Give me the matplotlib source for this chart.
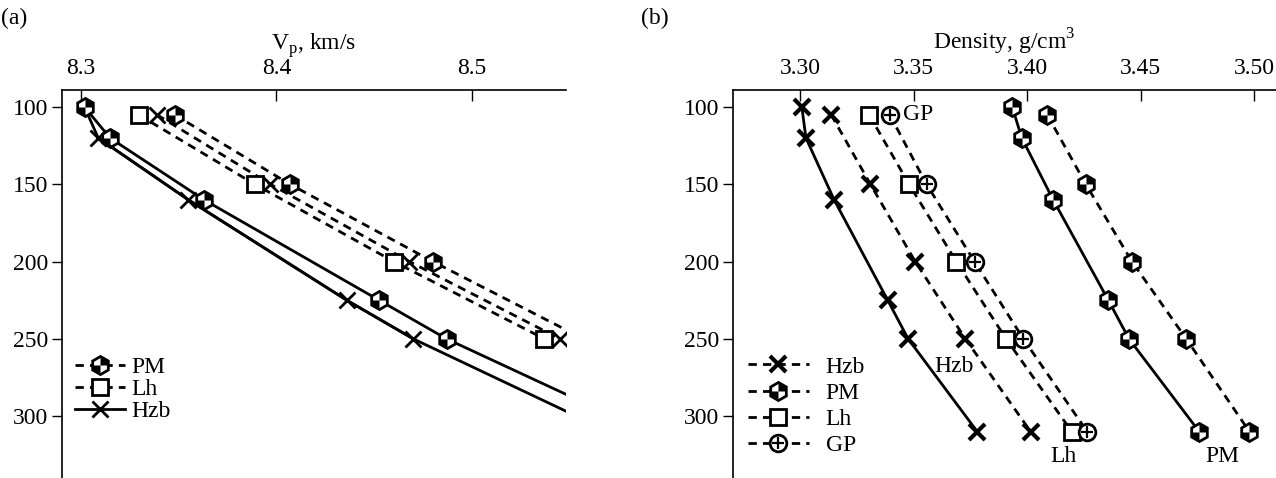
import numpy as np
import matplotlib.pyplot as plt
from matplotlib.path import Path
from matplotlib.legend_handler import HandlerTuple

plt.rcParams['font.family'] = ['Liberation Serif', 'DejaVu Serif']
plt.rcParams['mathtext.fontset'] = 'custom'
plt.rcParams['mathtext.rm'] = 'Liberation Serif'
plt.rcParams['font.size'] = 17

# (a) Vp, km/s против глубины
depth_a_solid = [100, 120, 160, 225, 250, 310]
vp_pm_solid = [8.302, 8.315, 8.363, 8.4525, 8.487, 8.589]
vp_hzb_solid = [8.302, 8.309, 8.355, 8.436, 8.470, 8.570]
hzb_solid_marked = [1, 2, 3, 4]

depth_a_dash = [105, 150, 200, 250]
vp_pm_dash = [8.348, 8.407, 8.480, 8.557]
vp_lh_dash = [8.3296, 8.389, 8.460, 8.537]
vp_hzb_dash = [8.339, 8.397, 8.468, 8.545]

# (b) плотность
depth_b_solid = [100, 120, 160, 225, 250, 310]
rho_hzb_solid = [3.3008, 3.3026, 3.315, 3.3386, 3.3476, 3.378]
rho_pm_solid = [3.3934, 3.3976, 3.4114, 3.4357, 3.4448, 3.4757]

depth_b_dash = [105, 150, 200, 250, 310]
rho_hzb_dash = [3.3137, 3.331, 3.3507, 3.3728, 3.4015]
rho_lh_dash = [3.3304, 3.348, 3.3688, 3.3907, 3.4196]
rho_gp_dash = [3.3395, 3.3557, 3.3768, 3.3983, 3.4264]
rho_pm_dash = [3.4088, 3.4258, 3.4461, 3.47, 3.4978]

yticks = [100, 150, 200, 250, 300]
xticks_a = [8.3, 8.4, 8.5]
xticks_b = [3.30, 3.35, 3.40, 3.45, 3.50]

# чёрные четверти шестиугольника
c30 = np.cos(np.pi / 6)
quad = Path([(0, 0), (0, 1), (c30, 0.5), (c30, 0), (0, 0),
             (0, 0), (0, -1), (-c30, -0.5), (-c30, 0), (0, 0)],
            [Path.MOVETO, Path.LINETO, Path.LINETO, Path.LINETO, Path.CLOSEPOLY] * 2)

LW = 2.0
DASH = (3, 2.2)
HT = {tuple: HandlerTuple(ndivide=1, pad=0)}


def pm(ax, x, y, ls, ms=13):
    kw = dict(color='k', lw=LW, marker='h', ms=ms, mfc='white', mec='k', mew=2)
    if ls == '--':
        l1, = ax.plot(x, y, dashes=DASH, **kw)
    else:
        l1, = ax.plot(x, y, **kw)
    l2, = ax.plot(x, y, ls='none', marker=quad, ms=ms - 1.5, mfc='k', mec='none')
    return (l1, l2)


def style(ax, xlim, xticks, fmt):
    ax.set_xlim(*xlim)
    ax.set_ylim(340, 89)
    ax.xaxis.tick_top()
    ax.xaxis.set_label_position('top')
    ax.spines['right'].set_visible(False)
    ax.spines['bottom'].set_visible(False)
    ax.set_xticks(xticks)
    ax.set_xticklabels([fmt % v for v in xticks])
    ax.set_yticks(yticks)
    ax.tick_params(axis='x', direction='in', length=8, width=1, pad=8)
    ax.tick_params(axis='y', direction='out', length=7, width=1, pad=3)
    for s in ax.spines.values():
        s.set_linewidth(1.2)


fig = plt.figure(figsize=(12.76, 4.78), dpi=100)
ax1 = fig.add_axes([62 / 1276, 0, 504 / 1276, 388 / 478])
ax2 = fig.add_axes([733 / 1276, 0, 543 / 1276, 388 / 478])

# --- (a)
pm(ax1, vp_pm_solid, depth_a_solid, '-')
x_h = [vp_hzb_solid[i] for i in hzb_solid_marked]
d_h = [depth_a_solid[i] for i in hzb_solid_marked]
ax1.plot(vp_hzb_solid, depth_a_solid, color='k', lw=LW, zorder=1)
h_hzb_a, = ax1.plot(x_h, d_h, ls='-', color='k', lw=LW, marker='x', ms=12, mew=2)
ax1.plot(vp_hzb_dash, depth_a_dash, color='k', lw=LW, dashes=DASH,
         marker='x', ms=12, mew=2)
h_lh_a, = ax1.plot(vp_lh_dash, depth_a_dash, color='k', lw=LW, dashes=DASH,
                   marker='s', ms=11, mfc='white', mec='k', mew=2)
h_pm_a = pm(ax1, vp_pm_dash, depth_a_dash, '--')

style(ax1, (8.2905, 8.548), xticks_a, '%.1f')
ax1.set_xlabel(r'V$_{\mathrm{p}}$, km/s', labelpad=6)
ax1.legend([h_pm_a, h_lh_a, h_hzb_a], ['PM', 'Lh', 'Hzb'], handler_map=HT,
           loc='upper left', bbox_to_anchor=(0.026, 0.312), frameon=False,
           handlelength=2.1, handletextpad=0.3, labelspacing=0.02,
           borderpad=0, borderaxespad=0)

# --- (b)
h_hzb_b, = ax2.plot(rho_hzb_dash, depth_b_dash, color='k', lw=LW, dashes=DASH,
                    marker='x', ms=12, mew=3)
ax2.plot(rho_hzb_solid, depth_b_solid, color='k', lw=LW, marker='x', ms=12, mew=3)
h_lh_b, = ax2.plot(rho_lh_dash, depth_b_dash, color='k', lw=LW, dashes=DASH,
                   marker='s', ms=11, mfc='white', mec='k', mew=2)
g1, = ax2.plot(rho_gp_dash, depth_b_dash, color='k', lw=LW, dashes=DASH,
               marker='o', ms=12, mfc='white', mec='k', mew=2)
g2, = ax2.plot(rho_gp_dash, depth_b_dash, ls='none', marker='+', ms=9,
               mec='k', mew=1.6)
pm(ax2, rho_pm_solid, depth_b_solid, '-')
h_pm_b = pm(ax2, rho_pm_dash, depth_b_dash, '--')

ax2.text(3.3455, 105, 'GP', va='center', ha='left')
ax2.text(3.3677, 268, 'Hzb', va='center', ha='center')
ax2.text(3.4158, 326, 'Lh', va='center', ha='center')
ax2.text(3.486, 326, 'PM', va='center', ha='center')

style(ax2, (3.2705, 3.5095), xticks_b, '%.2f')
ax2.set_xlabel(r'Density, g/cm$^{3}$', labelpad=6)
ax2.legend([h_hzb_b, h_pm_b, h_lh_b, (g1, g2)], ['Hzb', 'PM', 'Lh', 'GP'],
           handler_map=HT,
           loc='upper left', bbox_to_anchor=(0.027, 0.314), frameon=False,
           handlelength=2.6, handletextpad=0.7, labelspacing=0.2,
           borderpad=0, borderaxespad=0)

fig.text(0.001, 0.962, '(a)', ha='left', va='center')
fig.text(0.502, 0.962, '(b)', ha='left', va='center')

fig.savefig('out.png', dpi=100)
